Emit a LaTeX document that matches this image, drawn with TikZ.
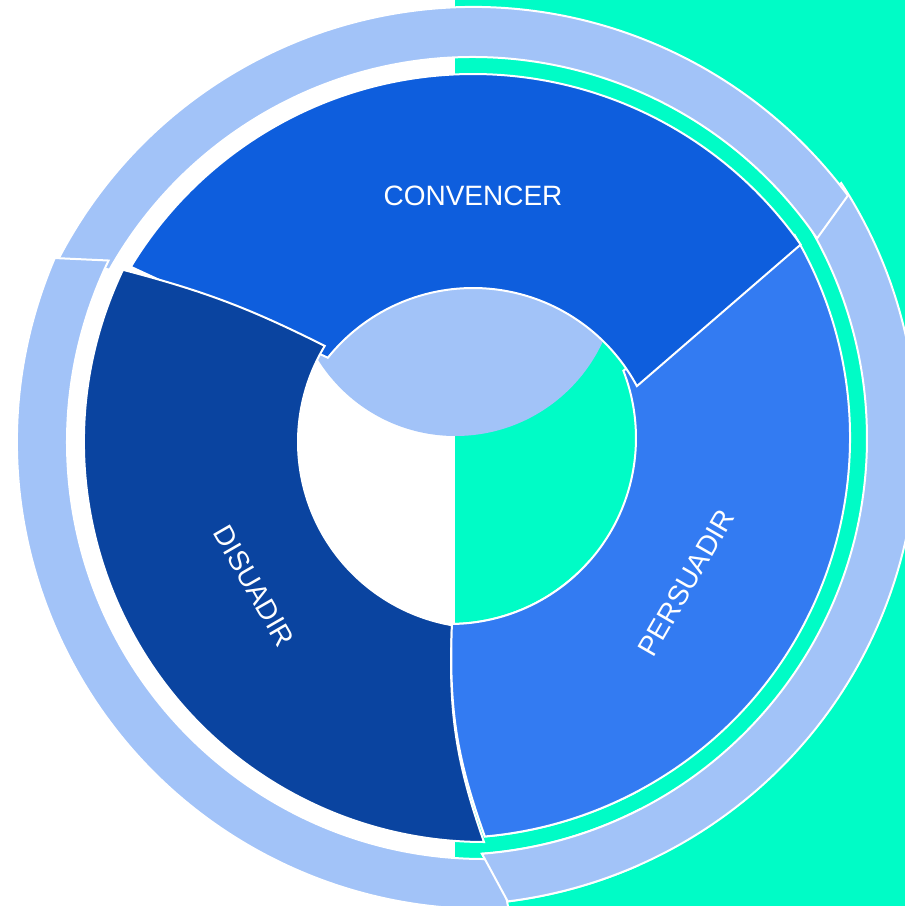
\documentclass[tikz,border=0pt]{standalone}
\usepackage{fontspec}
\setmainfont{Liberation Sans}
\usetikzlibrary{calc}
\definecolor{mintColor}{HTML}{00FCC6}
\definecolor{paleColor}{HTML}{A2C3F8}
\definecolor{convColor}{HTML}{0E5EDD}
\definecolor{disColor}{HTML}{0A44A0}
\definecolor{perColor}{HTML}{337BF2}
\tikzset{
	piece/.style={draw=white, line width=2pt, line join=miter},
	ring/.style={piece, fill=paleColor},
	lab/.style={text=white, inner sep=0pt, font=\fontsize{28}{32}\selectfont}
}

\begin{document}
\begin{tikzpicture}[x=1pt, y=1pt]
	\useasboundingbox (-467,-449) rectangle (438,457);
	\fill[white] (-467,-449) rectangle (-12,457);
	\fill[mintColor] (-12,-449) rectangle (438,457);
	\coordinate (oc) at (6,-17);
	\coordinate (od) at (17,15);
	\coordinate (op) at (-17,19);
	\fill[paleColor] (-11.5,183) circle (162);
	% outer ring
	\path[ring] ($(op)+(33.1:467)$) arc[start angle=33.1, end angle=-82.9, radius=467] -- ($(op)+(-85.6:417)$) arc[start angle=-85.6, end angle=32, radius=417] -- cycle;
	\path[ring] ($(oc)+(153.8:467)$) arc[start angle=153.8, end angle=36.6, radius=467] -- ($(oc)+(34.4:417)$) arc[start angle=34.4, end angle=150.6, radius=417] -- cycle;
	\path[ring] ($(od)+(156.8:467)$) arc[start angle=156.8, end angle=273, radius=467] -- ($(od)+(272:417)$) arc[start angle=272, end angle=154.2, radius=417] -- cycle;
	% segments
	\path[piece, fill=perColor] ($(op)+(30.5:400)$) arc[start angle=30.5, end angle=-85, radius=400] to[bend left=11] ($(op)+(-89.4:186)$) arc[start angle=-89.4, end angle=21.2, radius=186] -- cycle;
	\path[piece, fill=convColor] ($(oc)+(148.8:400)$) arc[start angle=148.8, end angle=35, radius=400] -- ($(oc)+(28.2:186)$) arc[start angle=28.2, end angle=141.3, radius=186] -- cycle;
	\path[piece, fill=disColor] ($(od)+(154.5:400)$) arc[start angle=154.5, end angle=270, radius=400] to[bend left=11] ($(od)+(260.1:186)$) arc[start angle=260.1, end angle=148.9, radius=186] to[bend right=6] ($(od)+(154.5:400)$) -- cycle;
	\begin{scope}
		\clip (-87,-449) rectangle (173,-103);
		\path[ring] ($(op)+(33.1:467)$) arc[start angle=33.1, end angle=-82.9, radius=467] -- ($(op)+(-85.6:417)$) arc[start angle=-85.6, end angle=32, radius=417] -- cycle;
		\path[piece, fill=perColor] ($(op)+(30.5:400)$) arc[start angle=30.5, end angle=-85, radius=400] to[bend left=11] ($(op)+(-89.4:186)$) arc[start angle=-89.4, end angle=21.2, radius=186] -- cycle;
	\end{scope}
	\node[lab] (conv) at (6,261) {CONVENCER};
	\node[lab, rotate=-60] (dis) at (-213,-129) {DISUADIR};
	\node[lab, rotate=60] (per) at (219,-126) {PERSUADIR};
\end{tikzpicture}
\end{document}
